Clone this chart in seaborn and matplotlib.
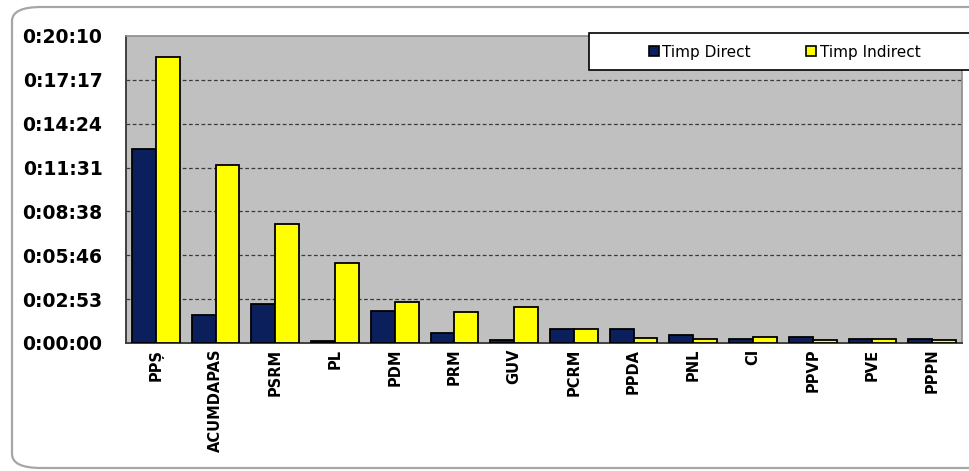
import pandas as pd
import numpy as np
import matplotlib
matplotlib.use("Agg")
import matplotlib.pyplot as plt
import matplotlib.ticker as mticker
from matplotlib.patches import FancyBboxPatch, Rectangle
from matplotlib.lines import Line2D
import seaborn as sns

# DATA (h:mm:ss)
parties = ["PPȘ", "ACUMDAPAS", "PSRM", "PL", "PDM", "PRM", "GUV",
           "PCRM", "PPDA", "PNL", "CI", "PPVP", "PVE", "PPPN"]
timp_direct = ["0:12:45", "0:01:50", "0:02:34", "0:00:08", "0:02:06", "0:00:39", "0:00:12",
               "0:00:54", "0:00:54", "0:00:33", "0:00:17", "0:00:22", "0:00:14", "0:00:14"]
timp_indirect = ["0:18:48", "0:11:40", "0:07:49", "0:05:15", "0:02:40", "0:02:03", "0:02:23",
                 "0:00:56", "0:00:20", "0:00:17", "0:00:22", "0:00:12", "0:00:17", "0:00:12"]
series_names = ["Timp Direct", "Timp Indirect"]
colors = ["#0a1f5c", "#ffff00"]

# long table for seaborn
df = pd.DataFrame({
    "partid": parties * 2,
    "serie": [series_names[0]] * len(parties) + [series_names[1]] * len(parties),
    "timp": timp_direct + timp_indirect,
})
df["secunde"] = pd.to_timedelta(df["timp"]).dt.total_seconds()

sns.set_style("white")
plt.rcParams["font.family"] = ["DejaVu Sans"]
plt.rcParams["text.color"] = "black"
plt.rcParams["xtick.color"] = "black"
plt.rcParams["ytick.color"] = "black"

fig = plt.figure(figsize=(9.7, 4.71), dpi=100)
fig.patch.set_facecolor("white")

# rounded outer chart border
border = FancyBboxPatch((12 / 970, 1 - 468 / 471), 990 / 970, 461 / 471,
                        boxstyle="round,pad=0,rounding_size=0.03",
                        transform=fig.transFigure, facecolor="none",
                        edgecolor="#a6a6a6", linewidth=1.6, zorder=-1)
fig.patches.append(border)

ax = fig.add_axes([126 / 970, 1 - 343 / 471, 836 / 970, 307 / 471])
ax.set_facecolor("#c0c0c0")

sns.barplot(data=df, x="partid", y="secunde", hue="serie", palette=colors,
            saturation=1, edgecolor="black", linewidth=1.3, width=0.8, ax=ax,
            legend=False, zorder=3)

# y axis: Excel time steps of 0.002 days
step = 0.002 * 86400
ax.set_ylim(0, 7 * step)
ax.yaxis.set_major_locator(mticker.MultipleLocator(step))

def hms(v, pos):
    s = int(round(v))
    return f"{s // 3600}:{(s % 3600) // 60:02d}:{s % 60:02d}"

ax.yaxis.set_major_formatter(mticker.FuncFormatter(hms))
ax.set_xlim(-0.5, len(parties) - 0.5)

for t in np.arange(1, 7) * step:
    ax.axhline(t, color="#3a3a3a", linewidth=0.9, linestyle=(0, (3, 2)), zorder=1)

ax.set_xlabel("")
ax.set_ylabel("")
ax.tick_params(axis="y", direction="out", length=8, width=1, color="#404040",
               labelsize=13.5, labelcolor="black", pad=9)
for lab in ax.get_yticklabels():
    lab.set_fontweight("bold")

ax.set_xticks(range(len(parties)))
ax.set_xticklabels(parties, rotation=90, fontsize=10.5, fontweight="bold")
ax.tick_params(axis="x", which="major", length=0, pad=4, labelcolor="black")
ax.set_xticks(np.arange(-0.5, len(parties), 1), minor=True)
ax.tick_params(axis="x", which="minor", direction="out", length=7, width=1, color="#404040")

for side in ["left", "bottom"]:
    ax.spines[side].set_color("#404040")
    ax.spines[side].set_linewidth(1.4)
for side in ["top", "right"]:
    ax.spines[side].set_color("#8c8c8c")
    ax.spines[side].set_linewidth(1.2)

# legend box overlapping the top right of the plot
legend_box = Rectangle((589 / 970, 1 - 70 / 471), 400 / 970, 37 / 471,
                       transform=fig.transFigure, facecolor="white",
                       edgecolor="black", linewidth=1.2, zorder=5)
fig.patches.append(legend_box)
handles = [Line2D([], [], linestyle="none", marker="s", markersize=7,
                  markerfacecolor=c, markeredgecolor="black", markeredgewidth=1.2)
           for c in colors]
leg = fig.legend(handles, series_names, loc="center left",
                 bbox_to_anchor=(635 / 970, 1 - 52 / 471), ncol=2, frameon=False,
                 fontsize=11, handlelength=0.7, handletextpad=0.2, columnspacing=3.6)
leg.set_zorder(6)

fig.savefig("out.png", dpi=100)
